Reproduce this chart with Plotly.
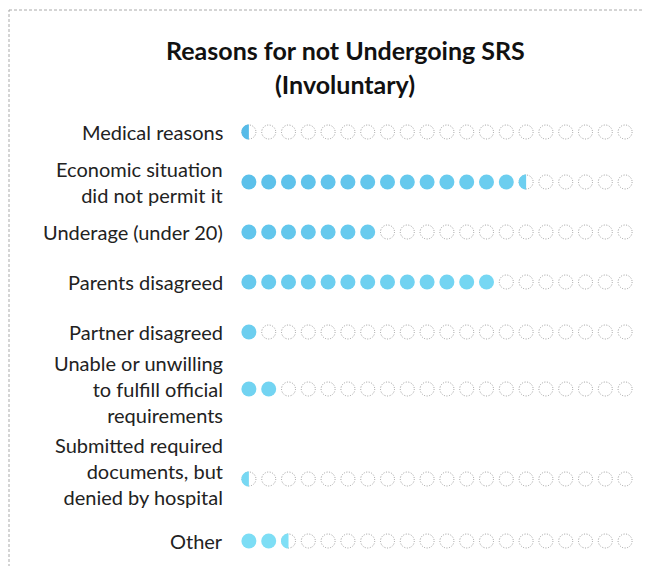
import numpy as np
import plotly.graph_objects as go
from plotly.colors import sample_colorscale

# ---------------- data ----------------
categories = [
    "Medical reasons",
    "Economic situation<br>did not permit it",
    "Underage (under 20)",
    "Parents disagreed",
    "Partner disagreed",
    "Unable or unwilling<br>to fulfill official<br>requirements",
    "Submitted required<br>documents, but<br>denied by hospital",
    "Other",
]
percent = [2.5, 72.5, 35, 65, 5, 10, 2.5, 12.5]
title_line1 = "Reasons for not Undergoing SRS"
title_line2 = "(Involuntary)"

# ---------------- layout constants ----------------
# page has an 8px body margin, so the figure is sized to fit the window
W, H = 644, 558
OFF = 8
dots_per_row = 20
pct_per_dot = 100 / dots_per_row
first_row_px = 132 - OFF
row_gap_px = [50, 50, 50, 50, 57, 90, 62]
label_offset_px = [0, 0, 0, 0, 0, 0, -8, 0]
dot_d = 15
r = dot_d / 2
m_left = 239 - OFF
plot_w = 396
m_right = W - m_left - plot_w
FONT = "Lato"
colorscale = [[0, "#56BBE8"], [1, "#86E5F8"]]
empty_line = "#9a9a9a"

row_y = list(np.cumsum([first_row_px] + row_gap_px))
n_rows = len(categories)


def shade(row, col):
    return float(np.clip(0.8 * row / (n_rows - 1) + 0.5 * col / (dots_per_row - 1), 0, 1))


full_x, full_y, full_c = [], [], []
shapes = []
th = np.linspace(np.pi / 2, 3 * np.pi / 2, 25)
half_path = "M " + " L ".join(f"{r*np.cos(t):.2f},{r*np.sin(t):.2f}" for t in th) + " Z"

for i, (cat, p) in enumerate(zip(categories, percent)):
    n = round(p / pct_per_dot * 2) / 2
    full = int(np.floor(n))
    half = (n - full) >= 0.5
    for c in range(full):
        full_x.append(c)
        full_y.append(row_y[i])
        full_c.append(shade(i, c))
    for c in range(full, dots_per_row):
        shapes.append(dict(
            type="circle", xref="x", yref="y",
            xsizemode="pixel", ysizemode="pixel",
            xanchor=c, yanchor=row_y[i],
            x0=-r + 0.5, x1=r - 0.5, y0=-r + 0.5, y1=r - 0.5,
            line=dict(color=empty_line, width=1, dash="1px,1.6px"),
            fillcolor="rgba(0,0,0,0)", layer="above",
        ))
    if half:
        col = sample_colorscale(colorscale, [shade(i, full)])[0]
        shapes.append(dict(
            type="path", xref="x", yref="y",
            xsizemode="pixel", ysizemode="pixel",
            xanchor=full, yanchor=row_y[i],
            path=half_path, fillcolor=col,
            line=dict(width=0), layer="above",
        ))

# dashed frame (extends past right and bottom edges)
shapes.append(dict(
    type="rect", xref="paper", yref="paper",
    x0=(9 - OFF - m_left) / plot_w, x1=2,
    y0=1 - (10 - OFF) / H, y1=-1,
    line=dict(color="#aaaaaa", width=1, dash="3px,2px"),
    fillcolor="rgba(0,0,0,0)", layer="below",
))

fig = go.Figure()
fig.add_trace(go.Scatter(
    x=full_x, y=full_y, mode="markers",
    marker=dict(size=dot_d, color=full_c, colorscale=colorscale, cmin=0, cmax=1,
                line=dict(width=0)),
    hoverinfo="skip", showlegend=False,
))

annotations = []
for i, cat in enumerate(categories):
    annotations.append(dict(
        text=cat, xref="x", yref="y", x=-0.5,
        y=row_y[i] + label_offset_px[i],
        xanchor="right", yanchor="middle", align="right", xshift=-14,
        showarrow=False,
        font=dict(family=FONT, size=20, color="#222222"),
    ))

title_x = (345 - OFF - m_left) / plot_w
annotations.append(dict(
    text=f"<b>{title_line1}</b>", xref="paper", yref="paper",
    x=title_x, y=1 - (50 - OFF) / H, xanchor="center", yanchor="middle",
    showarrow=False, font=dict(family=FONT, size=25, color="#111111"),
))
annotations.append(dict(
    text=f"<b>{title_line2}</b>", xref="paper", yref="paper",
    x=title_x, y=1 - (84 - OFF) / H, xanchor="center", yanchor="middle",
    showarrow=False, font=dict(family=FONT, size=25, color="#111111"),
))

fig.update_layout(
    width=W, height=H,
    margin=dict(l=m_left, r=m_right, t=0, b=0),
    paper_bgcolor="white", plot_bgcolor="white",
    xaxis=dict(range=[-0.5, dots_per_row - 0.5], visible=False, fixedrange=True),
    yaxis=dict(range=[H, 0], visible=False, fixedrange=True),
    shapes=shapes, annotations=annotations,
    font=dict(family=FONT),
)

fig.write_html("out.html")
